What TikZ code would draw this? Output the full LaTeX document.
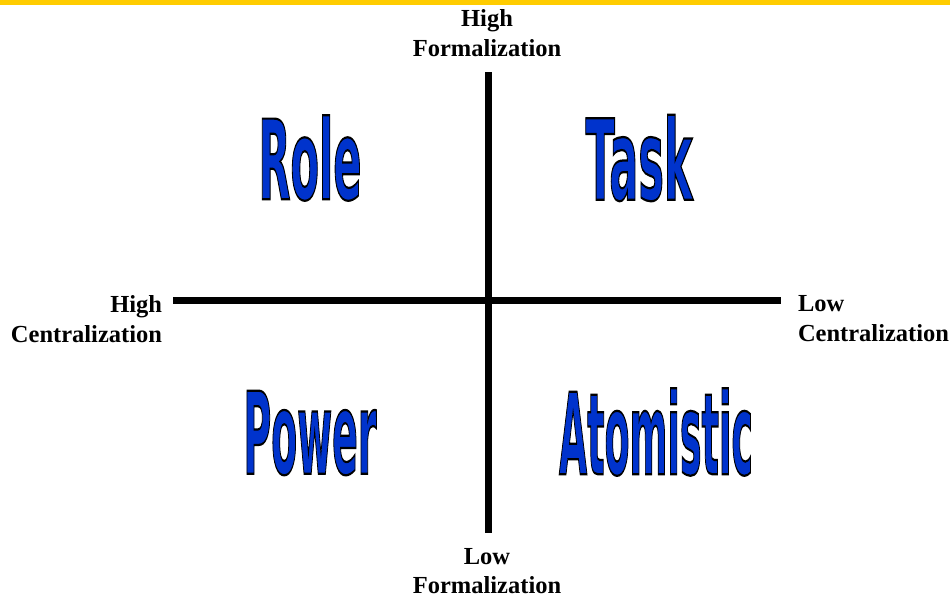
\documentclass[tikz,border=0pt]{standalone}
\usepackage{fontspec}
\setmainfont{Liberation Serif}
\newfontfamily\wordfont{DejaVu Sans}
\usepackage{tikz}
\usetikzlibrary{positioning}
\definecolor{yellowbar}{RGB}{255,204,0}
\definecolor{blueword}{RGB}{0,51,204}
% blue letters with a black outline, squeezed to the given width and height
\newcommand{\outlineword}[3]{\resizebox{#2}{#3}{\fontsize{110}{110}\selectfont\special{pdf:literal direct 0 0 0 RG 2 Tr 2.2 w}\wordfont\bfseries #1\special{pdf:literal direct 0 Tr}}}
\begin{document}
\begin{tikzpicture}[x=1pt,y=-1pt]

    \tikzstyle{every node}=[inner sep=0pt, outer sep=0pt]
    \tikzstyle{axis label}=[font=\fontsize{24.5}{29.5}\selectfont\bfseries]
    \tikzstyle{axis line}=[line width=7pt]
    \tikzstyle{quadrant}=[text=blueword]

    \useasboundingbox (0,0) rectangle (950,597);
    \fill[yellowbar] (0,0) rectangle (950,5);

    \coordinate (F1) at (488.5,72);
    \coordinate (F2) at (488.5,533);
    \coordinate (C1) at (173,300.5);
    \coordinate (C2) at (781,300.5);

    \draw[axis line] (F1) -- (F2);
    \draw[axis line] (C1) -- (C2);

    \node[axis label, align=center, anchor=north] (HF) at (487,9.5) {High\\Formalization};
    \node[axis label, align=center, anchor=north] (LF) at (487,548) {Low\\Formalization};
    \node[axis label, align=right, anchor=north east] (HC) at (162,295.5) {High\\Centralization};
    \node[axis label, align=left, anchor=north west] (LC) at (798,295.5) {Low\\Centralization};

    \node[quadrant] (Role) at (310,158) {\outlineword{Role}{103pt}{84pt}};
    \node[quadrant] (Task) at (639,158) {\outlineword{Task}{107pt}{85pt}};
    \node[quadrant] (Power) at (310,433) {\outlineword{Power}{133pt}{83pt}};
    \node[quadrant] (Atomistic) at (656,432) {\outlineword{Atomistic}{194pt}{86pt}};

\end{tikzpicture}
\end{document}
